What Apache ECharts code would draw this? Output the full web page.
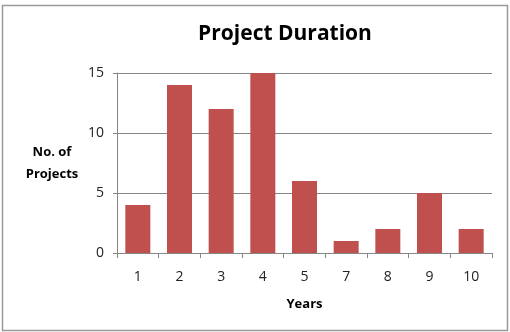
<!DOCTYPE html>
<html>
<head>
<meta charset="utf-8">
<script src="https://cdn.jsdelivr.net/npm/echarts@6/dist/echarts.min.js"></script>
<style>
  html, body { margin: 0; padding: 0; background: #fff; }
  #chart { width: 510px; height: 332px; }
</style>
</head>
<body>
<div id="chart"></div>
<script>
// Project durations, in years, and how many projects took each
const years = ['1', '2', '3', '4', '5', '7', '8', '9', '10'];
const projectCounts = [4, 14, 12, 15, 6, 1, 2, 5, 2];
const yTicks = [0, 5, 10, 15];

const FONT = 'Open Sans';
const chart = echarts.init(document.getElementById('chart'), null, { renderer: 'canvas' });

chart.setOption({
  backgroundColor: '#ffffff',
  animation: false,
  graphic: [{
    type: 'rect',
    shape: { x: 2.5, y: 5.5, width: 505, height: 325 },
    style: { fill: 'none', stroke: '#9a9a9a', lineWidth: 1.5 },
    silent: true
  }],
  title: {
    text: 'Project Duration',
    left: 280, top: 19,
    textAlign: 'center',
    textStyle: { fontFamily: FONT, fontWeight: 'bold', fontSize: 21, color: '#000' }
  },
  grid: { left: 117, right: 18, top: 73, bottom: 79 },
  xAxis: {
    type: 'category',
    data: years,
    name: 'Years',
    nameLocation: 'middle',
    nameGap: 45,
    nameTextStyle: { fontFamily: FONT, fontWeight: 'bold', fontSize: 13, color: '#000' },
    axisLine: { lineStyle: { color: '#868686', width: 1 } },
    axisTick: { show: true, length: 5, inside: false, alignWithLabel: false, lineStyle: { color: '#868686' } },
    axisLabel: { fontFamily: FONT, fontSize: 14, color: '#222', margin: 17 },
    splitLine: { show: false }
  },
  yAxis: {
    type: 'value',
    min: yTicks[0],
    max: yTicks[yTicks.length - 1],
    interval: 5,
    name: 'No. of\nProjects',
    nameLocation: 'middle',
    nameRotate: 0,
    nameGap: 65,
    nameTextStyle: { fontFamily: FONT, fontWeight: 'bold', fontSize: 13, color: '#000', lineHeight: 22, align: 'center' },
    axisLine: { show: true, lineStyle: { color: '#868686', width: 1 } },
    axisTick: { show: true, length: 4, lineStyle: { color: '#868686' } },
    axisLabel: { fontFamily: FONT, fontSize: 14, color: '#222', margin: 13 },
    splitLine: { show: true, lineStyle: { color: '#868686', width: 1 } }
  },
  series: [{
    type: 'bar',
    data: projectCounts,
    barCategoryGap: '40%',
    itemStyle: { color: '#C0504D' }
  }]
});
</script>
</body>
</html>
